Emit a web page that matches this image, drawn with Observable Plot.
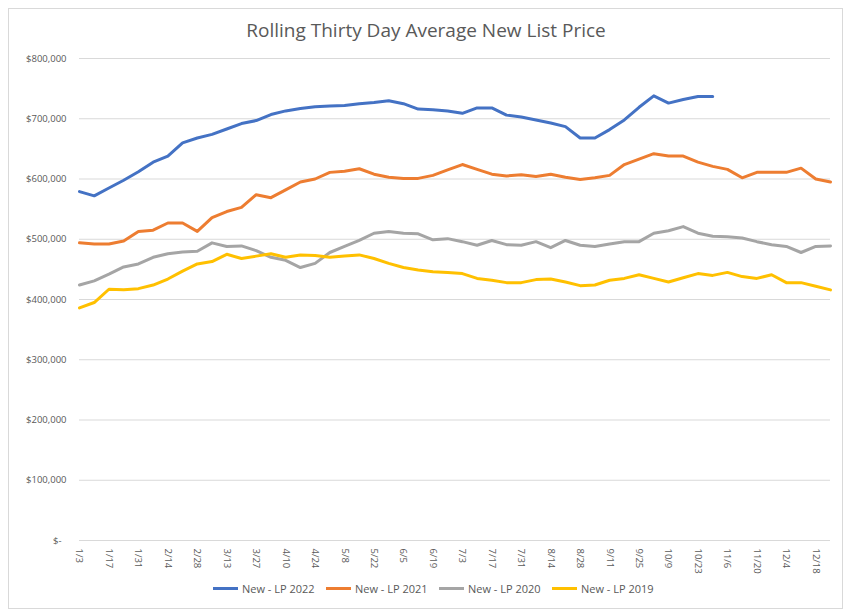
<!DOCTYPE html>
<html>
<head>
<meta charset="utf-8">
<script src="https://cdn.jsdelivr.net/npm/d3@7"></script>
<script src="https://cdn.jsdelivr.net/npm/@observablehq/plot@0.6"></script>
<style>
  body { margin: 0; background: #ffffff; font-family: "Open Sans", sans-serif; }
  #frame { position: absolute; left: 8px; top: 8px; width: 835px; height: 601px; border: 1px solid #d9d9d9; box-sizing: border-box; }
  #title { position: absolute; left: 0; top: 17px; width: 852px; text-align: center; font-size: 19px; color: #595959; }
  #chart { position: absolute; left: 0; top: 40px; }
  #legend { position: absolute; left: 213px; top: 580px; display: flex; font-size: 11px; color: #595959; }
  .item { width: 113px; display: flex; align-items: center; height: 16px; }
  .sw { width: 25px; height: 3px; margin-right: 4px; }
</style>
</head>
<body>
<div id="frame"></div>
<div id="title">Rolling Thirty Day Average New List Price</div>
<div id="chart"></div>
<div id="legend"></div>
<script>
// weekly category labels (1/3 … 12/25)
const weeks = ["1/3","1/10","1/17","1/24","1/31","2/7","2/14","2/21","2/28","3/6","3/13","3/20","3/27",
  "4/3","4/10","4/17","4/24","5/1","5/8","5/15","5/22","5/29","6/5","6/12","6/19","6/26",
  "7/3","7/10","7/17","7/24","7/31","8/7","8/14","8/21","8/28","9/4","9/11","9/18","9/25",
  "10/2","10/9","10/16","10/23","10/30","11/6","11/13","11/20","11/27","12/4","12/11","12/18","12/25"];

// labelled ticks on the category axis
const tickLabels = ["1/3","1/17","1/31","2/14","2/28","3/13","3/27","4/10","4/24","5/8","5/22","6/5","6/19",
  "7/3","7/17","7/31","8/14","8/28","9/11","9/25","10/9","10/23","11/6","11/20","12/4","12/18"];

const yTicks = [0, 100000, 200000, 300000, 400000, 500000, 600000, 700000, 800000];

const seriesNames = ["New - LP 2022", "New - LP 2021", "New - LP 2020", "New - LP 2019"];
const seriesColors = ["#4472C4", "#ED7D31", "#A5A5A5", "#FFC000"];

const lp2022 = [579000,572000,585000,598000,612000,628000,638000,660000,668000,674000,683000,692000,697000,
  707000,713000,717000,720000,721000,722000,725000,727000,730000,725000,716000,715000,713000,
  709000,718000,718000,706000,703000,698000,693000,687000,668000,668000,682000,698000,719000,
  738000,726000,732000,737000,737000,null,null,null,null,null,null,null,null];

const lp2021 = [494000,492000,492000,497000,513000,515000,527000,527000,513000,536000,546000,553000,574000,
  569000,582000,595000,600000,611000,613000,617000,608000,603000,601000,601000,606000,615000,
  624000,616000,608000,605000,607000,604000,608000,603000,599000,602000,606000,624000,633000,
  642000,638000,638000,628000,621000,616000,602000,611000,611000,611000,618000,600000,595000];

const lp2020 = [424000,431000,442000,454000,459000,470000,476000,479000,480000,494000,488000,489000,481000,
  470000,465000,453000,460000,478000,488000,498000,510000,513000,510000,509000,499000,501000,
  496000,490000,498000,491000,490000,496000,486000,498000,490000,488000,492000,496000,496000,
  510000,514000,521000,510000,505000,504000,502000,496000,491000,488000,478000,488000,489000];

const lp2019 = [386000,395000,417000,416000,418000,424000,434000,447000,459000,463000,475000,468000,472000,
  476000,470000,474000,473000,470000,472000,474000,468000,460000,453000,449000,446000,445000,
  443000,435000,432000,428000,428000,433000,434000,429000,423000,424000,432000,435000,441000,
  435000,429000,436000,443000,440000,445000,438000,435000,441000,428000,428000,422000,416000];

const seriesValues = [lp2022, lp2021, lp2020, lp2019];

const data = [];
seriesNames.forEach((name, s) => {
  seriesValues[s].forEach((v, i) => {
    if (v != null) data.push({ week: weeks[i], value: v, series: name });
  });
});

const fmt = d3.format(",");
const chart = Plot.plot({
  width: 852,
  height: 540,
  marginTop: 18,
  marginBottom: 40,
  marginLeft: 79,
  marginRight: 22,
  style: { fontFamily: "Open Sans, sans-serif", fontSize: "9.5px", color: "#595959", background: "transparent" },
  x: { type: "point", domain: weeks, padding: 0, label: null },
  y: { domain: [0, 800000], label: null },
  color: { domain: seriesNames, range: seriesColors },
  marks: [
    Plot.gridY(yTicks, { stroke: "#d9d9d9", strokeOpacity: 1, strokeWidth: 1 }),
    Plot.axisY(yTicks, {
      tickSize: 0, tickPadding: 13, fill: "#595959", label: null,
      tickFormat: d => d === 0 ? "$-\u00a0\u00a0" : "$" + fmt(d)
    }),
    Plot.axisX(tickLabels, { tickSize: 0, tickRotate: 90, tickPadding: 8, fill: "#595959", label: null }),
    Plot.lineY(data, {
      x: "week", y: "value", z: "series", stroke: "series",
      strokeWidth: 3, strokeLinejoin: "round", strokeLinecap: "round"
    })
  ]
});
document.getElementById("chart").appendChild(chart);

const legend = document.getElementById("legend");
seriesNames.forEach((name, i) => {
  const item = document.createElement("div");
  item.className = "item";
  const sw = document.createElement("div");
  sw.className = "sw";
  sw.style.background = seriesColors[i];
  const label = document.createElement("span");
  label.textContent = name;
  item.appendChild(sw);
  item.appendChild(label);
  legend.appendChild(item);
});
</script>
</body>
</html>
